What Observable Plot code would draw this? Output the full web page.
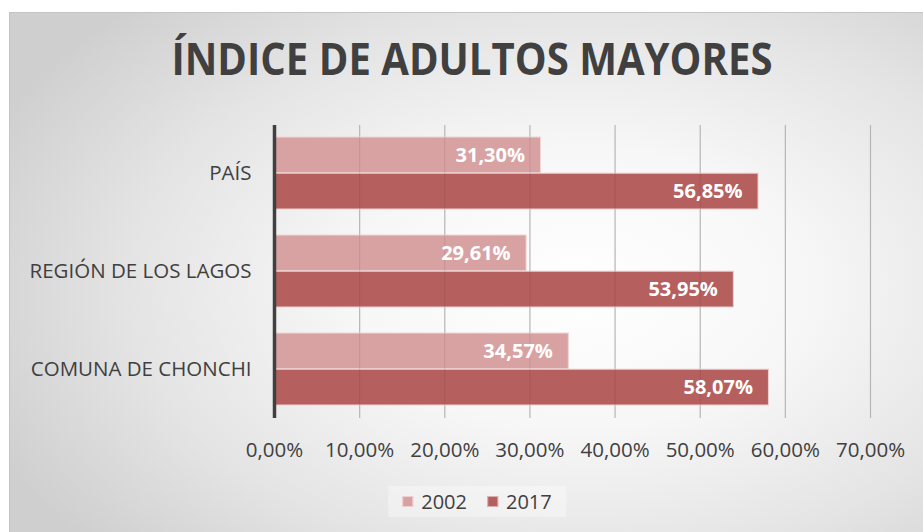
<!DOCTYPE html>
<html>
<head>
<meta charset="utf-8">
<script src="https://cdn.jsdelivr.net/npm/d3@7"></script>
<script src="https://cdn.jsdelivr.net/npm/@observablehq/plot@0.6"></script>
<style>
  html, body { margin: 0; padding: 0; background: #ffffff; }
  #page { position: relative; width: 923px; height: 532px; overflow: hidden; font-family: "Open Sans", sans-serif; color: #404040; }
  #frame { position: absolute; left: 9px; top: 12px; width: 920px; height: 530px; box-sizing: border-box;
    border: 1px solid #c4c4c4;
    background: radial-gradient(ellipse 70% 75% at 62% 52%, #ffffff 0%, #f7f7f7 35%, #e4e4e4 70%, #cfcfcf 100%); }
  #title { position: absolute; left: 472px; top: 28px; white-space: nowrap; font-weight: 700; font-size: 44px; line-height: 60px; color: #404040; transform-origin: 0 0; }
  #chart { position: absolute; left: 0; top: 100px; }
  #legend { position: absolute; top: 486px; left: 477px; transform: translateX(-50%); display: flex; align-items: center; gap: 20px; font-size: 20px; color: #404040; padding: 2px 14px; background: rgba(255,255,255,0.35); }
  .item { display: flex; align-items: center; gap: 8px; }
  .sw { width: 11px; height: 11px; box-sizing: border-box; }
</style>
</head>
<body>
<div id="page">
  <div id="frame"></div>
  <div id="title">ÍNDICE DE ADULTOS MAYORES</div>
  <div id="chart"></div>
  <div id="legend"></div>
</div>
<script>
const categories = ["PAÍS", "REGIÓN DE LOS LAGOS", "COMUNA DE CHONCHI"];
const years = ["2002", "2017"];
const values2002 = [31.30, 29.61, 34.57];
const values2017 = [56.85, 53.95, 58.07];
const xTicks = [0, 10, 20, 30, 40, 50, 60, 70];
const colors = {"2002": "#d8a2a3", "2017": "#b5605e"};

const fmt = v => v.toFixed(2).replace(".", ",") + "%";

const data2002 = categories.map((c, i) => ({cat: c, year: "2002", value: values2002[i]}));
const data2017 = categories.map((c, i) => ({cat: c, year: "2017", value: values2017[i]}));

const H = 370, mTop = 25, mBottom = 52;
const padIn = 0.263, padOut = 0.123;
const step = (H - mTop - mBottom) / (categories.length - padIn + 2 * padOut);
const bw = step * (1 - padIn);
const half = bw / 2;

const chart = Plot.plot({
  width: 923,
  height: H,
  marginTop: mTop,
  marginBottom: mBottom,
  marginLeft: 274,
  marginRight: 53,
  style: {background: "transparent", color: "#404040", fontFamily: "Open Sans, sans-serif", overflow: "visible"},
  x: {domain: [0, 70], label: null},
  y: {domain: categories, paddingInner: padIn, paddingOuter: padOut, label: null},
  marks: [
    Plot.ruleX(xTicks.slice(1), {stroke: "#c6c6c6", strokeWidth: 1.2}),
    Plot.barX(data2002, {x: "value", y: "cat", fill: colors["2002"], stroke: "#f0d6d6", strokeWidth: 1, insetBottom: half, insetLeft: 1}),
    Plot.barX(data2017, {x: "value", y: "cat", fill: colors["2017"], stroke: "#ecd0d0", strokeWidth: 1, insetTop: half, insetLeft: 1}),
    Plot.ruleX(xTicks.slice(1), {stroke: "#000", strokeOpacity: 0.08, strokeWidth: 1.2}),
    Plot.text(data2002, {x: "value", y: "cat", text: d => fmt(d.value), dy: -half / 2, dx: -16, textAnchor: "end", fill: "white", fontWeight: "bold", fontSize: 20}),
    Plot.text(data2017, {x: "value", y: "cat", text: d => fmt(d.value), dy: half / 2, dx: -16, textAnchor: "end", fill: "white", fontWeight: "bold", fontSize: 20}),
    Plot.ruleX([0], {stroke: "#404040", strokeWidth: 3.5}),
    Plot.axisX({ticks: xTicks, tickFormat: fmt, tickSize: 0, tickPadding: 24, fontSize: 20.5, anchor: "bottom", label: null}),
    Plot.axisY({tickSize: 0, tickPadding: 23, fontSize: 20.5, anchor: "left", label: null})
  ]
});
document.getElementById("chart").appendChild(chart);

const legend = document.getElementById("legend");
years.forEach(y => {
  const item = document.createElement("div");
  item.className = "item";
  const sw = document.createElement("div");
  sw.className = "sw";
  sw.style.background = colors[y];
  sw.style.border = "1px solid rgba(255,255,255,0.5)";
  const t = document.createElement("span");
  t.textContent = y;
  item.appendChild(sw);
  item.appendChild(t);
  legend.appendChild(item);
});

// fit title width to reference span
const title = document.getElementById("title");
const w = title.getBoundingClientRect().width;
const s = 601 / w;
title.style.transform = `scaleX(${s}) translateX(-50%)`;
</script>
</body>
</html>
